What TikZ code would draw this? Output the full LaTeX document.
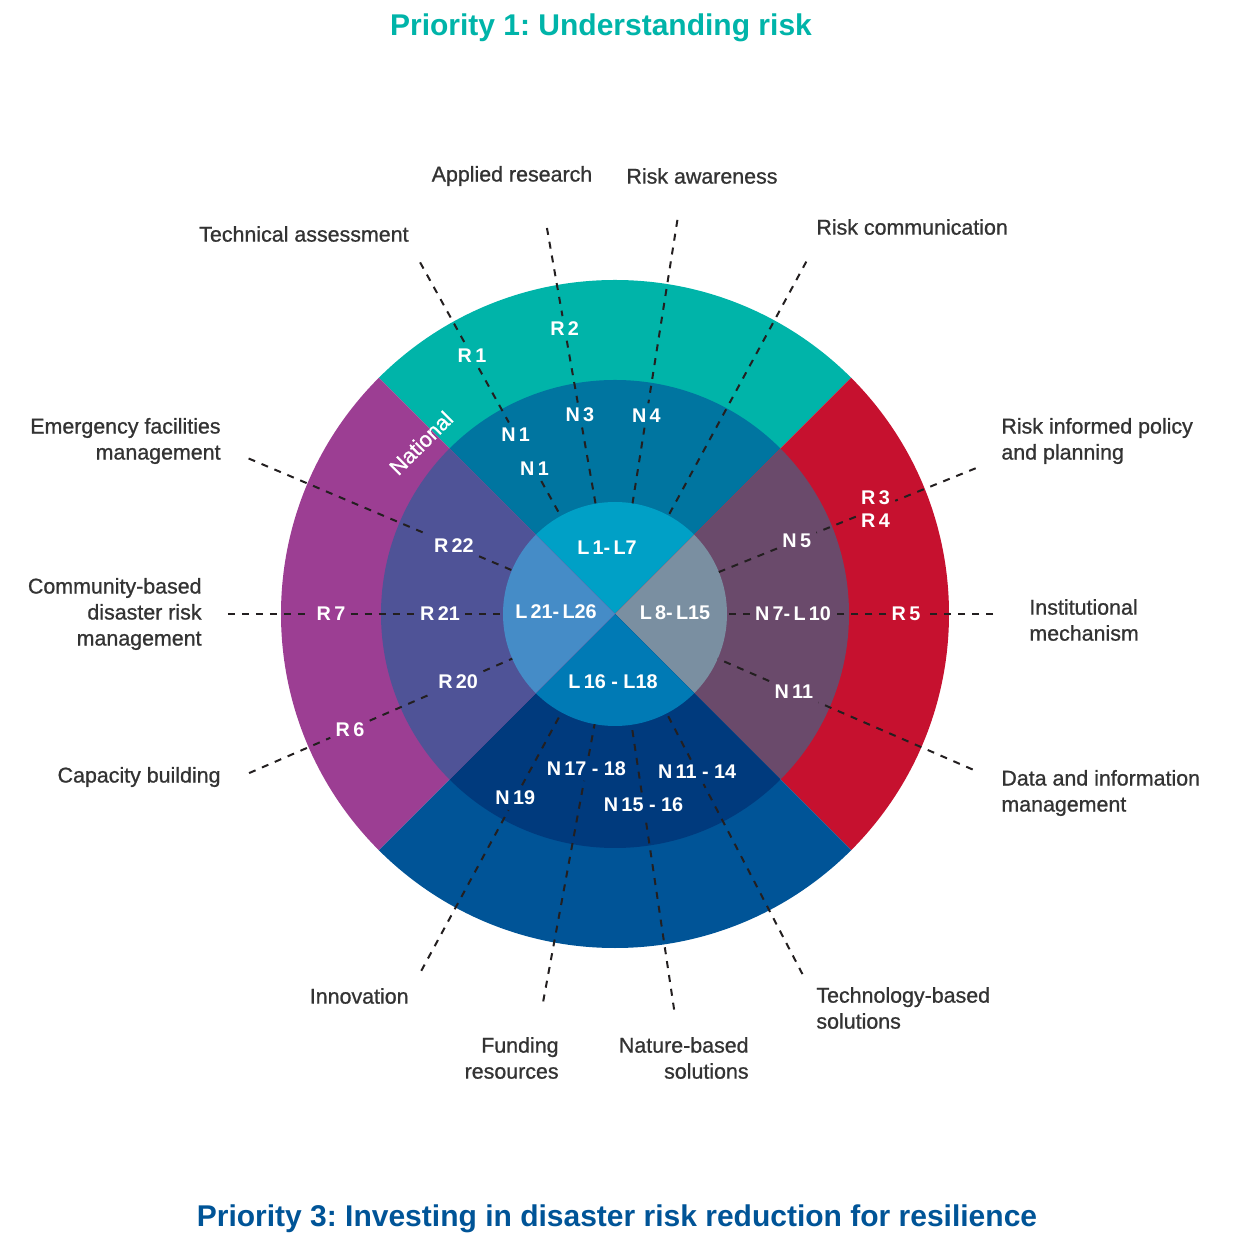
\documentclass[tikz,border=0pt]{standalone}
\usepackage{fontspec}
\setmainfont{Liberation Sans}
\newfontfamily\lblfont[FakeBold=0.9]{Liberation Sans}
\usetikzlibrary{positioning}
\frenchspacing
\definecolor{ringteal}{HTML}{00B4A9}
\definecolor{ringred}{HTML}{C6112F}
\definecolor{ringblue}{HTML}{005497}
\definecolor{ringpurple}{HTML}{9C3E93}
\definecolor{midteal}{HTML}{0075A0}
\definecolor{midred}{HTML}{6A4A6B}
\definecolor{midblue}{HTML}{003A7D}
\definecolor{midpurple}{HTML}{4F5397}
\definecolor{inteal}{HTML}{00A0C6}
\definecolor{inred}{HTML}{7A8FA1}
\definecolor{inblue}{HTML}{007AB5}
\definecolor{inpurple}{HTML}{458CC7}
\definecolor{leadergray}{HTML}{231F20}
\definecolor{labelgray}{HTML}{333333}
\tikzset{
  leader/.style={draw=leadergray, line width=1pt, dash pattern=on 3.5pt off 3.5pt},
  ringlabel/.style={text=white, font=\bfseries\fontsize{9.9}{11.5}\selectfont, inner sep=2.5pt},
  outerlabel/.style={text=labelgray, font=\lblfont\fontsize{10.7}{13}\selectfont, inner sep=0pt},
  titlelabel/.style={font=\bfseries\fontsize{15}{18}\selectfont, inner sep=0pt}
}

\begin{document}
\begin{tikzpicture}[x=0.5pt, y=0.5pt]
	\useasboundingbox (-615,-620) rectangle (617,614);
	
	\foreach \a/\outer/\mid/\inner in {45/ringteal/midteal/inteal, -45/ringred/midred/inred, 225/ringblue/midblue/inblue, 135/ringpurple/midpurple/inpurple} {
		\begin{scope}
			\clip (0,0) -- (\a:700) -- (\a+90:700) -- cycle;
			\fill[\outer] (0,0) circle (334);
			\fill[\mid] (0,0) circle (234);
			\fill[\inner] (0,0) circle (112);
		\end{scope}
	}
	
	\node [titlelabel, text=ringteal, anchor=base] (prio1) at (-14,578) {Priority 1: Understanding risk};
	\node [titlelabel, text=ringblue, anchor=base] (prio3) at (2,-612) {Priority 3: Investing in disaster risk reduction for resilience};
	
	\node [outerlabel, anchor=east] (tech) at (-206,380) {Technical assessment};
	\node [outerlabel] (applied) at (-103,438) {Applied research};
	\node [outerlabel] (aware) at (87,438) {Risk awareness};
	\node [outerlabel, anchor=west] (comm) at (201,387) {Risk communication};
	\node [outerlabel, anchor=west, align=left] (policy) at (386,173) {Risk informed policy\\and planning};
	\node [outerlabel, anchor=west, align=left] (inst) at (414,-6) {Institutional\\mechanism};
	\node [outerlabel, anchor=west, align=left] (data) at (386,-179) {Data and information\\management};
	\node [outerlabel, anchor=west, align=left] (techb) at (201,-394) {Technology-based\\solutions};
	\node [outerlabel, anchor=east, align=right] (nature) at (134,-444) {Nature-based\\solutions};
	\node [outerlabel, anchor=east, align=right] (fund) at (-56,-444) {Funding\\resources};
	\node [outerlabel, anchor=east] (innov) at (-206,-382) {Innovation};
	\node [outerlabel, anchor=east] (cap) at (-394,-163) {Capacity building};
	\node [outerlabel, anchor=east, align=right] (cbdrm) at (-413,0) {Community-based\\disaster risk\\management};
	\node [outerlabel, anchor=east, align=right] (emerg) at (-394,173) {Emergency facilities\\management};
	
	\node [ringlabel, rotate=45, font=\lblfont\fontsize{10.8}{12}\selectfont] (national) at (-194,171) {National};
	\node [ringlabel] (l1) at (-8,66) {L\,1-\,L7};
	\node [ringlabel] (l8) at (60,1) {L\,8-\,L15};
	\node [ringlabel] (l16) at (-2,-68) {L\,16 - L18};
	\node [ringlabel] (l21) at (-59,2) {L\,21-\,L26};
	
	\node [ringlabel] (r1) at (119:295) {R\,1};
	\node [ringlabel] (n1a) at (119:205) {N\,1};
	\node [ringlabel] (n1b) at (119:166) {N\,1};
	\node [ringlabel] (r2) at (100:290) {R\,2};
	\node [ringlabel] (n3) at (100:202) {N\,3};
	\node [ringlabel] (n4) at (81:201) {N\,4};
	\node [ringlabel, align=left] (r34) at (22:281) {R\,3\\R\,4};
	\node [ringlabel] (n5) at (22:196) {N\,5};
	\node [ringlabel] (r5) at (0:291) {R\,5};
	\node [ringlabel] (n7) at (0:178) {N\,7-\,L\,10};
	\node [ringlabel] (n11) at (-23.5:195) {N\,11};
	\node [ringlabel] (n1114) at (-62.5:178) {N\,11 - 14};
	\node [ringlabel] (n1516) at (-81.5:193) {N\,15 - 16};
	\node [ringlabel] (n1718) at (-100.5:157) {N\,17 - 18};
	\node [ringlabel] (n19) at (-118.5:209) {N\,19};
	\node [ringlabel] (r6) at (-156.5:289) {R\,6};
	\node [ringlabel] (r20) at (-156.5:171) {R\,20};
	\node [ringlabel] (r7) at (180:284) {R\,7};
	\node [ringlabel] (r21) at (180:175) {R\,21};
	\node [ringlabel] (r22) at (157:175) {R\,22};
	
	\coordinate (tech-end) at (119:402);
	\coordinate (tech-in) at (119:112);
	\coordinate (applied-end) at (100:392);
	\coordinate (applied-in) at (100:112);
	\coordinate (aware-end) at (81:399);
	\coordinate (aware-in) at (81:112);
	\coordinate (comm-end) at (61.5:401);
	\coordinate (comm-in) at (61.5:112);
	\coordinate (policy-end) at (22:389);
	\coordinate (policy-in) at (22:112);
	\coordinate (inst-end) at (0:378);
	\coordinate (inst-in) at (0:112);
	\coordinate (data-end) at (-23.5:390);
	\coordinate (data-in) at (-23.5:112);
	\coordinate (techb-end) at (-62.5:406);
	\coordinate (techb-in) at (-62.5:112);
	\coordinate (nature-end) at (-81.5:400);
	\coordinate (nature-in) at (-81.5:112);
	\coordinate (fund-end) at (-100.5:394);
	\coordinate (fund-in) at (-100.5:112);
	\coordinate (innov-end) at (-118.5:406);
	\coordinate (innov-in) at (-118.5:112);
	\coordinate (cap-end) at (-156.5:399);
	\coordinate (cap-in) at (-156.5:112);
	\coordinate (cbdrm-end) at (180:387);
	\coordinate (cbdrm-in) at (180:112);
	\coordinate (emerg-end) at (157:398);
	\coordinate (emerg-in) at (157:112);
	
	\draw [leader] (tech-end) -- (r1) -- (n1a) (n1b) -- (tech-in);
	\draw [leader] (applied-end) -- (r2) -- (n3) -- (applied-in);
	\draw [leader] (aware-end) -- (n4) -- (aware-in);
	\draw [leader] (comm-end) -- (comm-in);
	\draw [leader] (policy-end) -- (r34) -- (n5) -- (policy-in);
	\draw [leader] (inst-end) -- (r5) -- (n7) -- (inst-in);
	\draw [leader] (data-end) -- (n11) -- (data-in);
	\draw [leader] (techb-end) -- (n1114) -- (techb-in);
	\draw [leader] (nature-end) -- (n1516) -- (nature-in);
	\draw [leader] (fund-end) -- (n1718) -- (fund-in);
	\draw [leader] (innov-end) -- (n19) -- (innov-in);
	\draw [leader] (cap-end) -- (r6) -- (r20) -- (cap-in);
	\draw [leader] (cbdrm-end) -- (r7) -- (r21) -- (cbdrm-in);
	\draw [leader] (emerg-end) -- (r22) -- (emerg-in);
\end{tikzpicture}
\end{document}
